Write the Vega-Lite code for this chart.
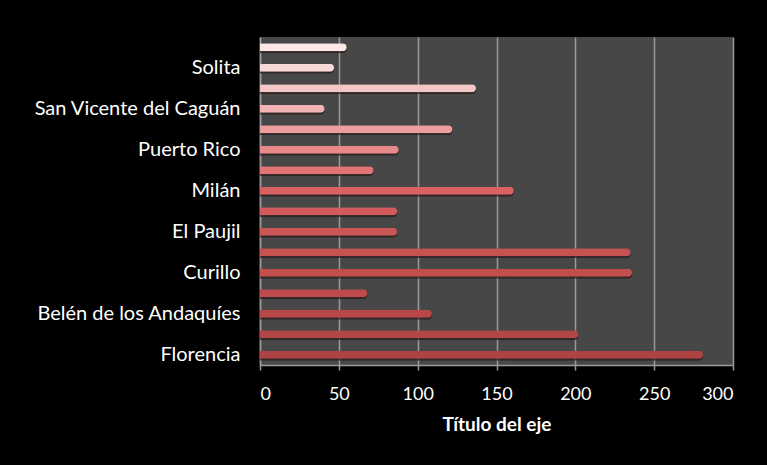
{
  "$schema": "https://vega.github.io/schema/vega-lite/v6.json",
  "autosize": {"type": "none"},
  "width": 473,
  "height": 328,
  "padding": {"left": 260, "top": 37, "right": 34, "bottom": 100},
  "background": "#000000",
  "config": {
    "view": {"fill": "#474747", "stroke": null},
    "font": "Lato"
  },
  "data": {
    "values": [
      {"municipio": "Florencia", "valor": 281},
      {"municipio": "Albania", "valor": 202},
      {"municipio": "Belén de los Andaquíes", "valor": 109},
      {"municipio": "Cartagena del Chairá", "valor": 68},
      {"municipio": "Curillo", "valor": 236},
      {"municipio": "El Doncello", "valor": 235},
      {"municipio": "El Paujil", "valor": 87},
      {"municipio": "La Montañita", "valor": 87},
      {"municipio": "Milán", "valor": 161},
      {"municipio": "Morelia", "valor": 72},
      {"municipio": "Puerto Rico", "valor": 88},
      {"municipio": "San José del Fragua", "valor": 122},
      {"municipio": "San Vicente del Caguán", "valor": 41},
      {"municipio": "Solano", "valor": 137},
      {"municipio": "Solita", "valor": 47},
      {"municipio": "Valparaíso", "valor": 55}
    ]
  },
  "encoding": {
    "y": {
      "field": "municipio",
      "type": "nominal",
      "sort": ["Valparaíso", "Solita", "Solano", "San Vicente del Caguán", "San José del Fragua", "Puerto Rico", "Morelia", "Milán", "La Montañita", "El Paujil", "El Doncello", "Curillo", "Cartagena del Chairá", "Belén de los Andaquíes", "Albania", "Florencia"],
      "scale": {"paddingInner": 0, "paddingOuter": 0},
      "axis": {
        "title": null,
        "labelExpr": "indexof(['Florencia','Belén de los Andaquíes','Curillo','El Paujil','Milán','Puerto Rico','San Vicente del Caguán','Solita'], datum.value) >= 0 ? datum.value : ''",
        "labelColor": "#ffffff",
        "labelFontSize": 20,
        "labelPadding": 20,
        "labelLimit": 300,
        "ticks": false,
        "domain": true,
        "domainColor": "#9a9a9a",
        "domainWidth": 1.5,
        "grid": false
      }
    },
    "x": {
      "field": "valor",
      "type": "quantitative",
      "scale": {"domain": [0, 300], "nice": false},
      "axis": {
        "title": "Título del eje",
        "titleColor": "#ffffff",
        "titleFontSize": 19,
        "titleFontWeight": "bold",
        "titlePadding": 12,
        "values": [0, 50, 100, 150, 200, 250, 300],
        "labelColor": "#ffffff",
        "labelFontSize": 18,
        "labelPadding": 15,
        "tickColor": "#9a9a9a",
        "tickSize": 5,
        "tickWidth": 1.5,
        "domainColor": "#9a9a9a",
        "domainWidth": 1.5,
        "grid": true,
        "gridColor": "#9a9a9a",
        "gridWidth": 1.5
      }
    }
  },
  "layer": [
    {
      "mark": {"type": "bar", "color": "#2a1a1a", "opacity": 0.7, "yOffset": 2, "height": {"band": 0.4}, "cornerRadiusEnd": 4}
    },
    {
      "mark": {"type": "bar", "height": {"band": 0.4}, "cornerRadiusEnd": 4},
      "encoding": {
        "color": {
          "field": "municipio",
          "type": "nominal",
          "legend": null,
          "scale": {
            "domain": ["Florencia", "Albania", "Belén de los Andaquíes", "Cartagena del Chairá", "Curillo", "El Doncello", "El Paujil", "La Montañita", "Milán", "Morelia", "Puerto Rico", "San José del Fragua", "San Vicente del Caguán", "Solano", "Solita", "Valparaíso"],
            "range": ["#ad4343", "#b24545", "#b84848", "#bd4b4b", "#c24e4e", "#c75252", "#cc5656", "#d35b5b", "#da6161", "#e17474", "#e78989", "#ec9e9e", "#f1b3b3", "#f5c6c6", "#f9d8d8", "#fde7e7"]
          }
        }
      }
    }
  ]
}
